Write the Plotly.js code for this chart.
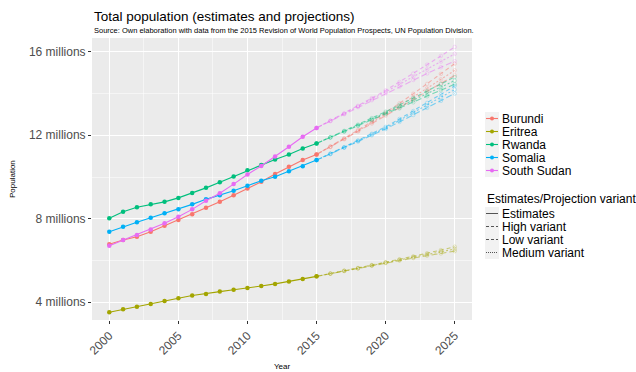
<!DOCTYPE html>
<html>
<head>
<meta charset="utf-8">
<script src="https://cdn.plot.ly/plotly-3.0.1.min.js"></script>
<style>html,body{margin:0;padding:0;background:#fff}#chart{width:636px;height:372px}</style>
</head>
<body>
<div id="chart"></div>
<script>
// ---- data (millions) ----
const countries = ["Burundi", "Eritrea", "Rwanda", "Somalia", "South Sudan"];
const estYears = [2000,2001,2002,2003,2004,2005,2006,2007,2008,2009,2010,2011,2012,2013,2014,2015];
const projYears = [2015,2016,2017,2018,2019,2020,2021,2022,2023,2024,2025];

const estBurundi    = [6.78,6.98,7.14,7.38,7.66,7.94,8.22,8.53,8.81,9.13,9.45,9.77,10.14,10.49,10.81,11.08];
const estEritrea    = [3.52,3.66,3.78,3.92,4.06,4.19,4.32,4.40,4.51,4.60,4.68,4.78,4.88,4.99,5.11,5.24];
const estRwanda     = [8.02,8.34,8.55,8.69,8.81,9.00,9.23,9.48,9.75,10.03,10.32,10.57,10.84,11.08,11.37,11.61];
const estSomalia    = [7.38,7.62,7.83,8.05,8.26,8.46,8.69,8.93,9.13,9.34,9.58,9.82,10.01,10.28,10.52,10.81];
const estSouthSudan = [6.71,6.98,7.22,7.49,7.78,8.10,8.45,8.86,9.22,9.66,10.12,10.53,10.98,11.45,11.93,12.35];

const highBurundi    = [11.08,11.46,11.85,12.25,12.66,13.08,13.53,13.99,14.46,14.94,15.43];
const medBurundi     = [11.08,11.45,11.83,12.21,12.61,13.01,13.42,13.83,14.25,14.68,15.11];
const lowBurundi     = [11.08,11.44,11.81,12.18,12.56,12.94,13.32,13.70,14.09,14.48,14.87];
const highEritrea    = [5.24,5.37,5.51,5.64,5.78,5.92,6.06,6.20,6.35,6.50,6.66];
const medEritrea     = [5.24,5.37,5.50,5.63,5.77,5.90,6.03,6.16,6.29,6.42,6.55];
const lowEritrea     = [5.24,5.37,5.50,5.62,5.75,5.88,6.00,6.12,6.23,6.34,6.45];
const highRwanda     = [11.61,11.91,12.21,12.51,12.82,13.13,13.45,13.78,14.11,14.45,14.79];
const medRwanda      = [11.61,11.90,12.19,12.48,12.77,13.06,13.37,13.68,13.99,14.30,14.62];
const lowRwanda      = [11.61,11.89,12.17,12.45,12.73,13.01,13.29,13.58,13.87,14.16,14.45];
const highSomalia    = [10.81,11.12,11.43,11.75,12.07,12.40,12.78,13.16,13.55,13.96,14.37];
const medSomalia     = [10.81,11.11,11.42,11.73,12.04,12.35,12.71,13.07,13.44,13.81,14.19];
const lowSomalia     = [10.81,11.10,11.40,11.70,12.00,12.30,12.64,12.97,13.31,13.65,14.00];
const highSouthSudan = [12.35,12.70,13.05,13.41,13.78,14.15,14.55,14.96,15.38,15.80,16.23];
const medSouthSudan  = [12.35,12.69,13.03,13.38,13.73,14.08,14.44,14.80,15.16,15.53,15.90];
const lowSouthSudan  = [12.35,12.68,13.01,13.35,13.68,14.01,14.33,14.65,14.96,15.26,15.55];

const variants = ["Estimates", "High variant", "Low variant", "Medium variant"];
const titleText = "Total population (estimates and projections)";
const subtitleText = "Source: Own elaboration with data from the 2015 Revision of World Population Prospects, UN Population Division.";

// ---- styles ----
const colors = ["#F8766D", "#A3A500", "#00BF7D", "#00B0F6", "#E76BF3"];
const colorsA = ["rgba(248,118,109,0.5)", "rgba(163,165,0,0.5)", "rgba(0,191,125,0.5)", "rgba(0,176,246,0.5)", "rgba(231,107,243,0.5)"];
const colorsM = ["rgba(248,118,109,0.22)", "rgba(163,165,0,0.22)", "rgba(0,191,125,0.22)", "rgba(0,176,246,0.22)", "rgba(231,107,243,0.22)"];
const dashes = {"High variant": "4px,3px", "Low variant": "6px,3px", "Medium variant": "2px,2px"};

const est = [estBurundi, estEritrea, estRwanda, estSomalia, estSouthSudan];
const proj = {
  "High variant":   [highBurundi, highEritrea, highRwanda, highSomalia, highSouthSudan],
  "Low variant":    [lowBurundi, lowEritrea, lowRwanda, lowSomalia, lowSouthSudan],
  "Medium variant": [medBurundi, medEritrea, medRwanda, medSomalia, medSouthSudan]
};

const traces = [];
countries.forEach((c, i) => {
  ["High variant", "Low variant", "Medium variant"].forEach(v => {
    traces.push({
      x: projYears, y: proj[v][i], type: "scatter", mode: "lines+markers",
      name: c + " " + v, showlegend: false,
      line: {color: colorsA[i], width: 1.1, dash: dashes[v]},
      marker: {color: "rgba(0,0,0,0)", size: 3.6, line: {color: colorsM[i], width: 1}}
    });
  });
});
countries.forEach((c, i) => {
  traces.push({
    x: estYears, y: est[i], type: "scatter", mode: "lines+markers",
    name: c, showlegend: false,
    line: {color: colors[i], width: 1.1},
    marker: {color: colors[i], size: 4.5}
  });
});

// ---- layout helpers (pixel -> paper) ----
const L = 92, R = 472, T = 38, B = 320;
const px = v => (v - L) / (R - L);
const py = v => (B - v) / (B - T);
const FONT = "Liberation Sans, Arial, sans-serif";

const annotations = [
  {text: titleText, x: px(92), y: py(17), xref: "paper", yref: "paper", xanchor: "left", yanchor: "middle", showarrow: false,
   font: {family: FONT, size: 13.5, color: "#000"}},
  {text: subtitleText, x: px(92), y: py(31), xref: "paper", yref: "paper", xanchor: "left", yanchor: "middle", showarrow: false,
   font: {family: FONT, size: 7.5, color: "#000"}},
  {text: "Population", x: px(12), y: py(179), xref: "paper", yref: "paper", xanchor: "center", yanchor: "middle", textangle: -90, showarrow: false,
   font: {family: FONT, size: 8, color: "#000"}},
  {text: "Year", x: px(282), y: py(366), xref: "paper", yref: "paper", xanchor: "center", yanchor: "middle", showarrow: false,
   font: {family: FONT, size: 8, color: "#000"}},
  {text: "Estimates/Projection variant", x: px(485), y: py(199), xref: "paper", yref: "paper", xanchor: "left", yanchor: "middle", showarrow: false,
   font: {family: FONT, size: 12, color: "#000"}}
];
const shapes = [];
const keyX0 = 485, keyX1 = 499, keyH = 13;
countries.forEach((c, i) => {
  const cy = 118.5 + 13 * i;
  shapes.push({type: "rect", xref: "paper", yref: "paper", x0: px(keyX0), x1: px(keyX1), y0: py(cy - keyH / 2), y1: py(cy + keyH / 2),
    fillcolor: "#F2F2F2", line: {width: 0}});
  shapes.push({type: "line", xref: "paper", yref: "paper", x0: px(keyX0 + 1), x1: px(keyX1 - 1), y0: py(cy), y1: py(cy),
    line: {color: colors[i], width: 1.1}});
  shapes.push({type: "circle", xref: "paper", yref: "paper", x0: px(492 - 2), x1: px(492 + 2), y0: py(cy - 2), y1: py(cy + 2),
    fillcolor: colors[i], line: {width: 0}});
  annotations.push({text: c, x: px(500), y: py(cy), xref: "paper", yref: "paper", xanchor: "left", yanchor: "middle", showarrow: false,
    font: {family: FONT, size: 12, color: "#000"}});
});
const keyDash = {"Estimates": "solid", "High variant": "3px,2px", "Low variant": "3px,2px", "Medium variant": "1px,1px"};
variants.forEach((v, i) => {
  const cy = 213.5 + 13 * i;
  shapes.push({type: "rect", xref: "paper", yref: "paper", x0: px(keyX0), x1: px(keyX1), y0: py(cy - keyH / 2), y1: py(cy + keyH / 2),
    fillcolor: "#F2F2F2", line: {width: 0}});
  shapes.push({type: "line", xref: "paper", yref: "paper", x0: px(keyX0 + 1), x1: px(keyX1 - 1), y0: py(cy), y1: py(cy),
    line: {color: "#555", width: 1, dash: keyDash[v]}});
  annotations.push({text: v, x: px(500), y: py(cy), xref: "paper", yref: "paper", xanchor: "left", yanchor: "middle", showarrow: false,
    font: {family: FONT, size: 12, color: "#000"}});
});

const layout = {
  width: 636, height: 372,
  margin: {l: L, r: 636 - R, t: T, b: 372 - B, pad: 0},
  paper_bgcolor: "#FFFFFF", plot_bgcolor: "#EBEBEB",
  showlegend: false,
  font: {family: FONT, color: "#4D4D4D"},
  xaxis: {
    range: [1998.75, 2026.25], tickmode: "linear", tick0: 2000, dtick: 5,
    showgrid: true, gridcolor: "#FFFFFF", gridwidth: 1.1, zeroline: false, showline: false,
    ticks: "outside", ticklen: 3, tickcolor: "#333333", tickwidth: 1,
    tickangle: -45, tickfont: {size: 12, color: "#4D4D4D"},
    minor: {dtick: 2.5, tick0: 2000, showgrid: true, gridcolor: "#FFFFFF", gridwidth: 0.5, ticks: ""}
  },
  yaxis: {
    range: [3.15, 16.66], tickmode: "linear", tick0: 4, dtick: 4, ticksuffix: " millions",
    showgrid: true, gridcolor: "#FFFFFF", gridwidth: 1.1, zeroline: false, showline: false,
    ticks: "outside", ticklen: 3, tickcolor: "#333333", tickwidth: 1,
    tickfont: {size: 12, color: "#4D4D4D"},
    minor: {dtick: 2, tick0: 0, showgrid: true, gridcolor: "#FFFFFF", gridwidth: 0.5, ticks: ""}
  },
  annotations: annotations,
  shapes: shapes
};

Plotly.newPlot("chart", traces, layout, {displayModeBar: false, staticPlot: true});
</script>
</body>
</html>
